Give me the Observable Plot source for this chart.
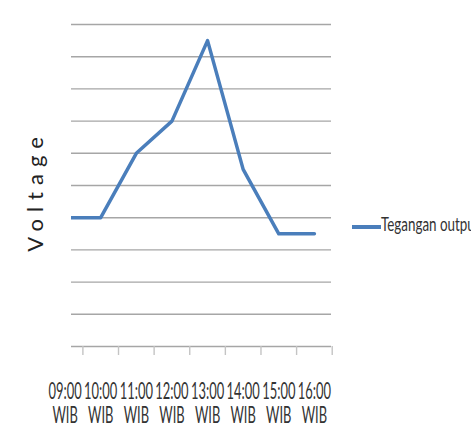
<!DOCTYPE html>
<html><head><meta charset="utf-8">
<script src="https://cdn.jsdelivr.net/npm/d3@7"></script>
<script src="https://cdn.jsdelivr.net/npm/@observablehq/plot@0.6"></script>
<style>body{margin:0;background:#fff;overflow:hidden} svg{display:block}</style>
</head><body><div id="chart"></div>
<script>
const times = ["09:00", "10:00", "11:00", "12:00", "13:00", "14:00", "15:00", "16:00"];
const zone = "WIB";
const voltage = [4, 4, 6, 7, 9.5, 5.5, 3.5, 3.5];
const gridValues = [1, 2, 3, 4, 5, 6, 7, 8, 9, 10];
const yLabel = "Voltage";
const seriesName = "Tegangan output";

const data = times.map((t, i) => ({i, t, v: voltage[i]}));
// category boundaries (Excel-style "between" tick marks)
const tickPos = times.map((t, i) => i + 0.5);

const chart = Plot.plot({
  width: 471, height: 423,
  marginTop: 24, marginRight: 140, marginBottom: 77, marginLeft: 71,
  style: {fontFamily: "Lato", background: "white"},
  x: {type: "linear", domain: [0.18, 7.48], axis: null},
  y: {domain: [0, 10], axis: null},
  marks: [
    Plot.ruleY(gridValues, {stroke: "#a6a6a6", strokeWidth: 1.4}),
    Plot.ruleY([0], {stroke: "#a6a6a6", strokeWidth: 1.4}),
    Plot.axisX(tickPos, {tickSize: 9, tickFormat: () => "", stroke: "#c4c4c4", strokeWidth: 1.4, label: null}),
    Plot.axisX(data.map(d => d.i), {tickSize: 0, tickPadding: 35, tickFormat: i => times[i] + "\n" + zone, fontSize: 23.5, lineHeight: 1.04, fill: "#333", label: null}),
    Plot.line(data, {x: "i", y: "v", stroke: "#4a7ebb", strokeWidth: 3.5, strokeLinejoin: "round", clip: true})
  ]
});
document.getElementById("chart").appendChild(chart);

const svg = d3.select(chart);
// squeeze tick label text horizontally (reference text is condensed)
svg.selectAll('[aria-label="x-axis tick label"] text').each(function() {
  const tr = this.getAttribute("transform") || "";
  this.setAttribute("transform", tr + " scale(0.55,1)");
});

// y title
svg.append("text")
  .attr("transform", "translate(43,191) rotate(-90)")
  .attr("text-anchor", "middle")
  .attr("font-family", "Lato")
  .attr("font-size", 22)
  .attr("letter-spacing", 7)
  .attr("fill", "#222")
  .text(yLabel);

// legend
const lg = svg.append("g");
lg.append("line").attr("x1", 352).attr("x2", 381).attr("y1", 227).attr("y2", 227)
  .attr("stroke", "#4a7ebb").attr("stroke-width", 4);
lg.append("text")
  .attr("transform", "translate(381,231) scale(0.67,1)")
  .attr("text-anchor", "start")
  .attr("font-family", "Lato")
  .attr("font-size", 20)
  .attr("fill", "#333")
  .text(seriesName);
</script>
</body></html>
